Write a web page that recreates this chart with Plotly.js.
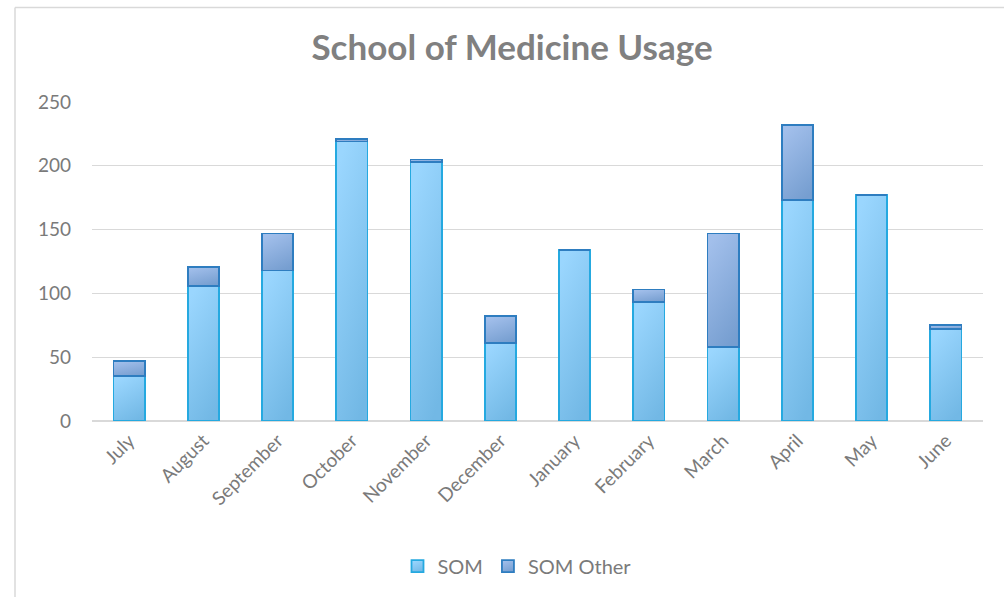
<!DOCTYPE html>
<html>
<head>
<meta charset="utf-8">
<script src="https://cdn.plot.ly/plotly-3.0.1.min.js"></script>
<style>
  html, body { margin: 0; padding: 0; background: #ffffff; }
  #chart { width: 1004px; height: 597px; }
</style>
</head>
<body>
<div id="chart"></div>
<script>
// Monthly usage, fiscal year order
const months = ["July", "August", "September", "October", "November", "December",
                "January", "February", "March", "April", "May", "June"];
const somValues = [35, 106, 118, 219, 203, 61, 134, 93, 58, 173, 177, 72];
const somOtherValues = [12, 15, 29, 2, 2, 21, 0, 10, 89, 59, 0, 3];
const yTicks = [0, 50, 100, 150, 200, 250];

const FONT = "'Century Gothic', Lato, 'Open Sans', sans-serif";
const GREY = "#7a7a7a";

const traces = [
  {
    type: "bar",
    name: "SOM",
    x: months,
    y: somValues,
    marker: { color: "#88c8f2", line: { color: "#25a9e0", width: 1.8 } },
    hoverinfo: "skip"
  },
  {
    type: "bar",
    name: "SOM Other",
    x: months,
    y: somOtherValues,
    marker: { color: "#8daedd", line: { color: "#2e7dc0", width: 1.8 } },
    hoverinfo: "skip"
  }
];

const layout = {
  width: 1004,
  height: 597,
  paper_bgcolor: "#ffffff",
  plot_bgcolor: "#ffffff",
  margin: { l: 92, r: 21, t: 102, b: 176 },
  barmode: "stack",
  bargap: 0.58,
  font: { family: FONT, color: GREY },
  title: {
    text: "<b>School of Medicine Usage</b>",
    font: { family: FONT, size: 35, color: "#808080" },
    x: 0.51, xanchor: "center",
    y: 0.92, yanchor: "middle"
  },
  xaxis: {
    type: "category",
    tickangle: -45,
    tickfont: { family: FONT, size: 19, color: GREY },
    showgrid: false,
    zeroline: false,
    showline: false,
    ticks: "",
    ticklabelstandoff: 4
  },
  yaxis: {
    range: [0, 250],
    tickvals: yTicks,
    ticktext: yTicks.map(String),
    tickfont: { family: FONT, size: 19, color: GREY },
    gridcolor: "#d9d9d9",
    gridwidth: 1.3,
    zeroline: true,
    zerolinecolor: "#d9d9d9",
    zerolinewidth: 1.3,
    showline: false,
    ticks: "",
    ticklabelstandoff: 20
  },
  showlegend: true,
  legend: {
    orientation: "h",
    x: (517 - 92) / 891, xanchor: "center",
    y: -0.455, yanchor: "middle",
    font: { family: FONT, size: 20, color: GREY },
    itemclick: false,
    traceorder: "normal"
  },
  shapes: [
    {
      type: "line", xref: "paper", yref: "paper", layer: "below",
      x0: (15 - 92) / 891, x1: 1.2, y0: (421 - 7.5) / 319, y1: (421 - 7.5) / 319,
      line: { color: "#d9d9d9", width: 1.5 }
    },
    {
      type: "line", xref: "paper", yref: "paper", layer: "below",
      x0: (15 - 92) / 891, x1: (15 - 92) / 891, y0: (421 - 7.5) / 319, y1: -0.7,
      line: { color: "#d9d9d9", width: 1.5 }
    }
  ]
};

// Vertical shading for each series: lighter at the top of a segment, deeper at the base
const gradients = [
  { id: "somShade", top: "#9ad6fe", bottom: "#72b8e5" },
  { id: "somOtherShade", top: "#a2bfeb", bottom: "#769ed0" }
];

function applyShading(gd) {
  const svg = gd.querySelector(".main-svg");
  let defs = svg.querySelector("defs");
  if (!defs) {
    defs = document.createElementNS("http://www.w3.org/2000/svg", "defs");
    svg.insertBefore(defs, svg.firstChild);
  }
  gradients.forEach(g => {
    const lg = document.createElementNS("http://www.w3.org/2000/svg", "linearGradient");
    lg.setAttribute("id", g.id);
    lg.setAttribute("x1", "0.3"); lg.setAttribute("y1", "0");
    lg.setAttribute("x2", "0.7"); lg.setAttribute("y2", "1");
    [[0, g.top], [1, g.bottom]].forEach(([off, col]) => {
      const st = document.createElementNS("http://www.w3.org/2000/svg", "stop");
      st.setAttribute("offset", off);
      st.setAttribute("stop-color", col);
      lg.appendChild(st);
    });
    defs.appendChild(lg);
  });
  gd.querySelectorAll(".barlayer .trace").forEach((tr, i) => {
    tr.querySelectorAll("path").forEach(p => { p.style.fill = "url(#" + gradients[i].id + ")"; });
  });
  gd.querySelectorAll(".legend .traces").forEach((tr, i) => {
    tr.querySelectorAll(".legendpoints path").forEach(p => { p.style.fill = "url(#" + gradients[i].id + ")"; });
  });
}

Plotly.newPlot("chart", traces, layout, { displayModeBar: false, staticPlot: true })
  .then(applyShading);
</script>
</body>
</html>
